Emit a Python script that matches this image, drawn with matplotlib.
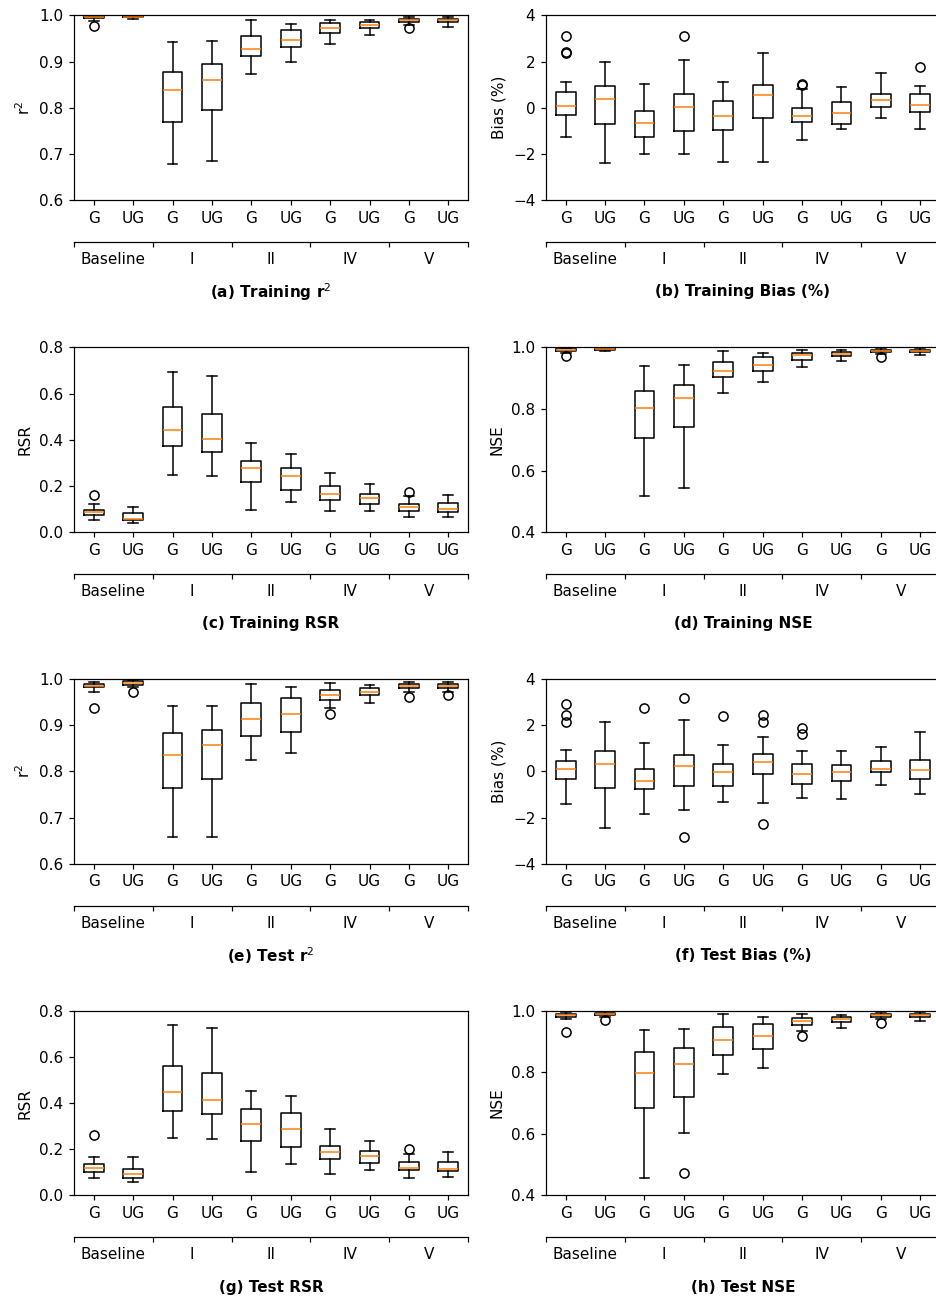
import matplotlib

matplotlib.use('Agg')
import matplotlib.pyplot as plt

# column order: Baseline G, Baseline UG, I G, I UG, II G, II UG, IV G, IV UG, V G, V UG
box_labels = ['G', 'UG'] * 5
groups = ['Baseline', 'I', 'II', 'IV', 'V']

# (a) training r2
train_r2_med = [0.996, 0.997, 0.839, 0.861, 0.928, 0.947, 0.973, 0.979, 0.990, 0.990]
train_r2_q1 = [0.994, 0.996, 0.770, 0.795, 0.911, 0.931, 0.962, 0.973, 0.985, 0.985]
train_r2_q3 = [0.998, 0.998, 0.877, 0.894, 0.955, 0.968, 0.983, 0.985, 0.993, 0.993]
train_r2_lo = [0.989, 0.993, 0.679, 0.684, 0.873, 0.898, 0.939, 0.957, 0.980, 0.975]
train_r2_hi = [0.999, 0.999, 0.942, 0.945, 0.990, 0.982, 0.991, 0.991, 0.997, 0.996]
train_r2_fl = [[0.978], [], [], [], [], [], [], [], [0.972], []]

# (b) training bias (%)
train_bias_med = [0.09, 0.38, -0.66, 0.05, -0.38, 0.55, -0.37, -0.25, 0.35, 0.12]
train_bias_q1 = [-0.31, -0.70, -1.26, -0.99, -0.96, -0.43, -0.61, -0.71, 0.02, -0.18]
train_bias_q3 = [0.67, 0.96, -0.14, 0.58, 0.31, 0.99, -0.02, 0.25, 0.60, 0.58]
train_bias_lo = [-1.28, -2.38, -2.02, -2.02, -2.37, -2.37, -1.39, -0.94, -0.44, -0.94]
train_bias_hi = [1.12, 2.00, 1.02, 2.08, 1.13, 2.38, 0.80, 0.90, 1.52, 0.94]
train_bias_fl = [[3.09, 2.42, 2.37], [], [], [3.12], [], [], [1.02, 0.99], [], [], [1.75]]

# (c) training RSR
train_rsr_med = [0.087, 0.058, 0.443, 0.404, 0.277, 0.241, 0.165, 0.149, 0.107, 0.101]
train_rsr_q1 = [0.074, 0.051, 0.374, 0.348, 0.218, 0.182, 0.137, 0.123, 0.091, 0.088]
train_rsr_q3 = [0.097, 0.084, 0.543, 0.510, 0.310, 0.277, 0.199, 0.166, 0.123, 0.127]
train_rsr_lo = [0.052, 0.038, 0.247, 0.241, 0.097, 0.131, 0.091, 0.091, 0.064, 0.066]
train_rsr_hi = [0.123, 0.110, 0.695, 0.676, 0.384, 0.338, 0.257, 0.209, 0.155, 0.159]
train_rsr_fl = [[0.159], [], [], [], [], [], [], [], [0.175], []]

# (d) training NSE
train_nse_med = [0.991, 0.995, 0.804, 0.836, 0.924, 0.944, 0.974, 0.978, 0.989, 0.990]
train_nse_q1 = [0.988, 0.992, 0.706, 0.740, 0.905, 0.925, 0.960, 0.972, 0.985, 0.985]
train_nse_q3 = [0.997, 0.998, 0.859, 0.879, 0.953, 0.968, 0.982, 0.986, 0.993, 0.993]
train_nse_lo = [0.983, 0.989, 0.518, 0.543, 0.853, 0.887, 0.935, 0.956, 0.978, 0.976]
train_nse_hi = [0.999, 0.999, 0.939, 0.943, 0.989, 0.982, 0.991, 0.991, 0.998, 0.997]
train_nse_fl = [[0.972], [], [], [], [], [], [], [], [0.968], []]

# (e) test r2
test_r2_med = [0.986, 0.991, 0.835, 0.857, 0.914, 0.924, 0.965, 0.973, 0.986, 0.986]
test_r2_q1 = [0.982, 0.988, 0.765, 0.784, 0.876, 0.885, 0.955, 0.965, 0.980, 0.980]
test_r2_q3 = [0.990, 0.995, 0.883, 0.889, 0.948, 0.959, 0.976, 0.980, 0.989, 0.990]
test_r2_lo = [0.973, 0.983, 0.658, 0.657, 0.824, 0.840, 0.937, 0.948, 0.973, 0.972]
test_r2_hi = [0.993, 0.998, 0.941, 0.942, 0.989, 0.982, 0.991, 0.987, 0.994, 0.994]
test_r2_fl = [[0.937], [0.972], [], [], [], [], [0.924], [], [0.961], [0.965]]

# (f) test bias (%)
test_bias_med = [0.11, 0.30, -0.41, 0.22, -0.02, 0.40, -0.12, -0.02, 0.11, 0.08]
test_bias_q1 = [-0.34, -0.74, -0.75, -0.62, -0.62, -0.11, -0.54, -0.41, -0.01, -0.34]
test_bias_q3 = [0.46, 0.90, 0.12, 0.72, 0.31, 0.77, 0.30, 0.28, 0.47, 0.51]
test_bias_lo = [-1.40, -2.47, -1.83, -1.67, -1.31, -1.35, -1.16, -1.18, -0.57, -0.98]
test_bias_hi = [0.92, 2.15, 1.25, 2.24, 1.14, 1.47, 0.88, 0.88, 1.05, 1.69]
test_bias_fl = [[2.93, 2.45, 2.13], [], [2.73], [3.18, -2.84], [2.41],
                [2.44, 2.13, -2.26], [1.87, 1.63], [], [], []]

# (g) test RSR
test_rsr_med = [0.120, 0.091, 0.449, 0.413, 0.310, 0.287, 0.188, 0.170, 0.120, 0.114]
test_rsr_q1 = [0.102, 0.075, 0.367, 0.351, 0.234, 0.208, 0.159, 0.142, 0.108, 0.105]
test_rsr_q3 = [0.137, 0.114, 0.560, 0.530, 0.375, 0.355, 0.215, 0.194, 0.143, 0.146]
test_rsr_lo = [0.077, 0.058, 0.250, 0.243, 0.103, 0.137, 0.094, 0.110, 0.077, 0.079]
test_rsr_hi = [0.168, 0.168, 0.738, 0.726, 0.452, 0.432, 0.286, 0.234, 0.181, 0.186]
test_rsr_fl = [[0.261], [], [], [], [], [], [], [], [0.202], []]

# (h) test NSE
test_nse_med = [0.986, 0.989, 0.799, 0.828, 0.904, 0.919, 0.968, 0.972, 0.985, 0.985]
test_nse_q1 = [0.979, 0.985, 0.685, 0.719, 0.857, 0.875, 0.953, 0.963, 0.979, 0.979]
test_nse_q3 = [0.991, 0.994, 0.865, 0.878, 0.946, 0.956, 0.975, 0.979, 0.991, 0.990]
test_nse_lo = [0.973, 0.981, 0.456, 0.601, 0.794, 0.815, 0.935, 0.945, 0.973, 0.966]
test_nse_hi = [0.997, 0.998, 0.938, 0.942, 0.988, 0.979, 0.990, 0.986, 0.996, 0.996]
test_nse_fl = [[0.932], [0.970], [], [0.474], [], [], [0.919], [], [0.959], []]


def draw_panel(ax, med, q1, q3, lo, hi, fliers, ylim, yticks, ylabel, title):
    stats = []
    for i in range(len(med)):
        stats.append({'med': med[i], 'q1': q1[i], 'q3': q3[i],
                      'whislo': lo[i], 'whishi': hi[i], 'fliers': fliers[i]})
    positions = list(range(1, len(stats) + 1))
    ax.bxp(stats, positions=positions, widths=0.5,
           medianprops=dict(color='#ff7f0e', linewidth=1.0))
    ax.set_xlim(0.5, len(stats) + 0.5)
    ax.set_xticks(positions, labels=box_labels)
    ax.set_ylim(*ylim)
    ax.set_yticks(yticks)
    ax.set_ylabel(ylabel)

    # group axis below the G/UG labels
    sec = ax.secondary_xaxis(-0.2275)
    bounds = [0.5 + 2 * k for k in range(len(groups) + 1)]
    centers = [1.5 + 2 * k for k in range(len(groups))]
    sec.set_xticks(bounds, labels=[])
    sec.set_xticks(centers, labels=groups, minor=True)
    sec.tick_params(axis='x', which='minor', length=0, pad=6.5)
    ax.text(0.5, -0.497, title, transform=ax.transAxes, ha='center', va='center',
            fontweight='bold')


DPI = 110
fig = plt.figure(figsize=(937 / DPI, 1297 / DPI), dpi=DPI)
col_left = [0.079, 0.5827]
row_bottom = [0.8458, 0.5898, 0.3341, 0.0784]
w, h = 0.4205, 0.1423

panels = [
    (train_r2_med, train_r2_q1, train_r2_q3, train_r2_lo, train_r2_hi, train_r2_fl,
     (0.6, 1.0), [0.6, 0.7, 0.8, 0.9, 1.0], 'r$^2$', '(a) Training r$^2$'),
    (train_bias_med, train_bias_q1, train_bias_q3, train_bias_lo, train_bias_hi, train_bias_fl,
     (-4, 4), [-4, -2, 0, 2, 4], 'Bias (%)', '(b) Training Bias (%)'),
    (train_rsr_med, train_rsr_q1, train_rsr_q3, train_rsr_lo, train_rsr_hi, train_rsr_fl,
     (0.0, 0.8), [0.0, 0.2, 0.4, 0.6, 0.8], 'RSR', '(c) Training RSR'),
    (train_nse_med, train_nse_q1, train_nse_q3, train_nse_lo, train_nse_hi, train_nse_fl,
     (0.4, 1.0), [0.4, 0.6, 0.8, 1.0], 'NSE', '(d) Training NSE'),
    (test_r2_med, test_r2_q1, test_r2_q3, test_r2_lo, test_r2_hi, test_r2_fl,
     (0.6, 1.0), [0.6, 0.7, 0.8, 0.9, 1.0], 'r$^2$', '(e) Test r$^2$'),
    (test_bias_med, test_bias_q1, test_bias_q3, test_bias_lo, test_bias_hi, test_bias_fl,
     (-4, 4), [-4, -2, 0, 2, 4], 'Bias (%)', '(f) Test Bias (%)'),
    (test_rsr_med, test_rsr_q1, test_rsr_q3, test_rsr_lo, test_rsr_hi, test_rsr_fl,
     (0.0, 0.8), [0.0, 0.2, 0.4, 0.6, 0.8], 'RSR', '(g) Test RSR'),
    (test_nse_med, test_nse_q1, test_nse_q3, test_nse_lo, test_nse_hi, test_nse_fl,
     (0.4, 1.0), [0.4, 0.6, 0.8, 1.0], 'NSE', '(h) Test NSE'),
]

for idx, panel in enumerate(panels):
    row, col = divmod(idx, 2)
    ax = fig.add_axes([col_left[col], row_bottom[row], w, h])
    draw_panel(ax, *panel)

fig.savefig('out.png', dpi=DPI)
plt.close(fig)
